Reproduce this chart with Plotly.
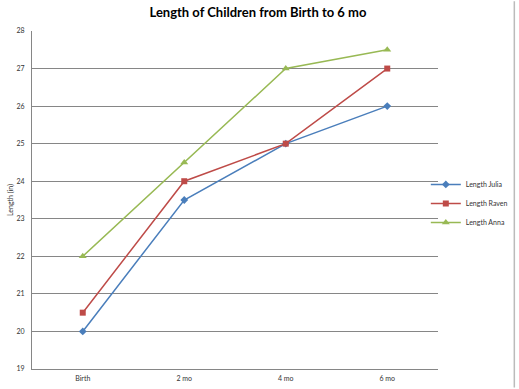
import plotly.graph_objects as go

categories = ["Birth", "2 mo", "4 mo", "6 mo"]
julia = [20, 23.5, 25, 26]
raven = [20.5, 24, 25, 27]
anna = [22, 24.5, 27, 27.5]
y_ticks = list(range(19, 29))

fig = go.Figure()
series = [
    ("Length Julia", julia, "#4A7EBB", "diamond", 6),
    ("Length Raven", raven, "#BE4B48", "square", 6),
    ("Length Anna", anna, "#98B954", "triangle-up", 7),
]
for name, vals, color, sym, sz in series:
    fig.add_trace(go.Scatter(
        x=categories, y=vals, name=name, mode="lines+markers",
        line=dict(color=color, width=1.5),
        marker=dict(symbol=sym, size=sz, color=color),
    ))

fig.update_layout(
    width=519, height=389,
    margin=dict(l=32, r=81, t=31, b=20, autoexpand=False),
    paper_bgcolor="white", plot_bgcolor="white",
    title=dict(text="<b>Length of Children from Birth to 6 mo</b>", x=0.497, xanchor="center",
               y=0.968, yanchor="middle", font=dict(family="Lato", size=13, color="black")),
    font=dict(family="Lato", size=7, color="#333333"),
    showlegend=True,
    legend=dict(x=0.97, y=0.49, xanchor="left", yanchor="middle",
                font=dict(size=7, color="#333333"), itemwidth=30,
                bgcolor="rgba(0,0,0,0)", tracegroupgap=0),
)
fig.update_xaxes(type="category", range=[-0.5, 3.5], showgrid=False,
                 showline=True, linecolor="#868686", linewidth=1, automargin=False,
                 ticks="", tickfont=dict(size=7), ticklabelstandoff=3)
fig.update_yaxes(range=[19, 28], tickvals=y_ticks, showgrid=True, automargin=False,
                 gridcolor="#868686", gridwidth=1, showline=True,
                 linecolor="#868686", linewidth=1, ticks="", zeroline=False,
                 tickfont=dict(size=7), ticklabelstandoff=5,
                 title=dict(text="Length (in)", font=dict(size=7), standoff=2))
fig.add_shape(type="line", xref="paper", yref="paper", x0=1.188, x1=1.188, y0=-0.055, y1=1.088,
              line=dict(color="#BBBBBB", width=1.5))

fig.write_html(
    "out.html",
    config={"displayModeBar": False},
    post_script="document.body.style.margin='0';document.body.style.overflow='hidden';"
                "document.documentElement.style.overflow='hidden';",
)
